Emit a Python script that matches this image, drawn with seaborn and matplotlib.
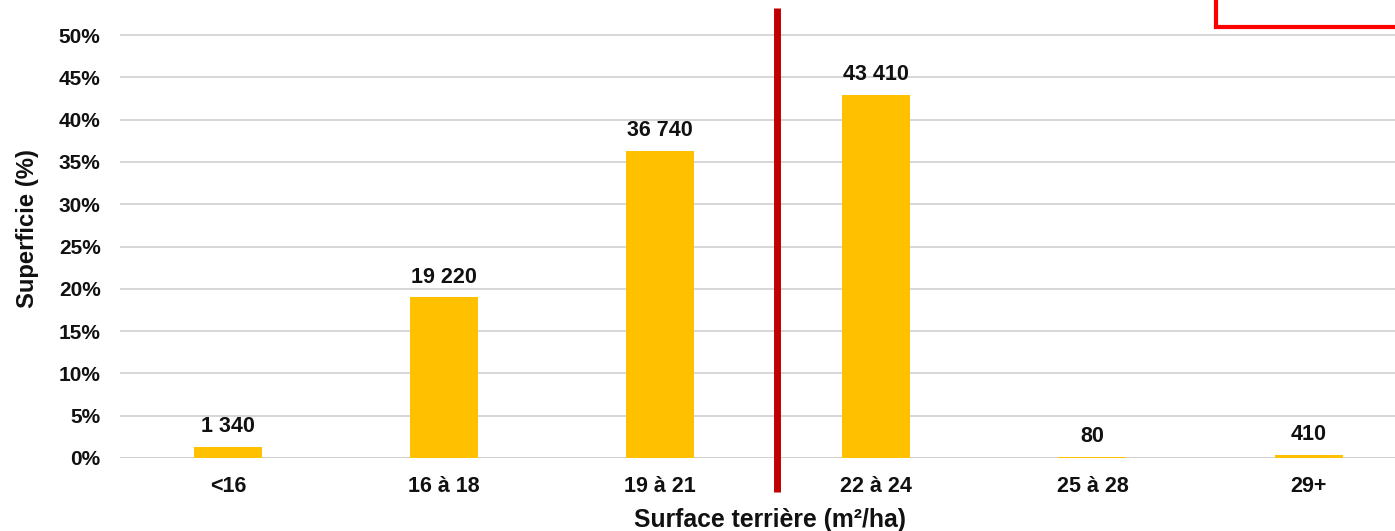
import pandas as pd
import seaborn as sns
import matplotlib.pyplot as plt
import matplotlib.transforms as mtransforms
from matplotlib.lines import Line2D

# données
categories = ["<16", "16 à 18", "19 à 21", "22 à 24", "25 à 28", "29+"]
superficie_pct = [1.3, 19.0, 36.3, 42.9, 0.1, 0.4]
superficie_ha = ["1 340", "19 220", "36 740", "43 410", "80", "410"]
yticks = [0, 5, 10, 15, 20, 25, 30, 35, 40, 45, 50]
seuil_x = 2.54  # position de la ligne rouge

df = pd.DataFrame({"classe": categories, "pct": superficie_pct})

sns.set_style("white")
plt.rcParams['font.family'] = ['Liberation Sans', 'DejaVu Sans']
plt.rcParams['font.weight'] = 'bold'

fig = plt.figure(figsize=(13.95, 5.31), dpi=100)
ax = fig.add_axes([0.086, 0.1375, 0.914, 0.8625])

sns.barplot(data=df, x="classe", y="pct", color="#FFC000", width=0.315,
            saturation=1, linewidth=0, ax=ax)

ax.bar_label(ax.containers[0], labels=superficie_ha, padding=7,
             fontsize=15.5, fontweight='bold', color='#111111')

ax.set_ylim(0, 54.14)
ax.set_xlim(-0.5, 5.40)
ax.set_yticks(yticks)
ax.set_yticklabels([f"{v}%" for v in yticks])
ax.yaxis.grid(True, color='#D0D0D0', linewidth=1.2)
ax.set_axisbelow(True)
for s in ax.spines.values():
    s.set_visible(False)
ax.axhline(0, color='#D0D0D0', linewidth=1.4, zorder=0)
ax.tick_params(axis='y', length=0, pad=14, labelsize=15, labelcolor='#111111')
ax.tick_params(axis='x', length=0, pad=13, labelsize=15.5, labelcolor='#111111')
for lbl in ax.get_xticklabels() + ax.get_yticklabels():
    lbl.set_fontweight('bold')

ax.set_xlabel("Surface terrière (m²/ha)", fontsize=17.8, fontweight='bold',
              color='#111111', labelpad=8)
ax.xaxis.set_label_coords(0.51, -0.11)
ax.set_ylabel("Superficie (%)", fontsize=17.2, fontweight='bold',
              color='#111111', labelpad=14)

# ligne verticale rouge
trans = mtransforms.blended_transform_factory(ax.transData, ax.transAxes)
ax.plot([seuil_x, seuil_x], [-0.074, 0.9825], color='#C00000', linewidth=5,
        transform=trans, clip_on=False, solid_capstyle='butt')

# cadre rouge en haut à droite
fig.add_artist(Line2D([0.872, 0.872], [0.949, 1.0], color='#FF0000',
                      linewidth=3, transform=fig.transFigure))
fig.add_artist(Line2D([0.872, 1.0], [0.949, 0.949], color='#FF0000',
                      linewidth=3, transform=fig.transFigure,
                      solid_capstyle='projecting'))

fig.savefig("out.png", dpi=100)
